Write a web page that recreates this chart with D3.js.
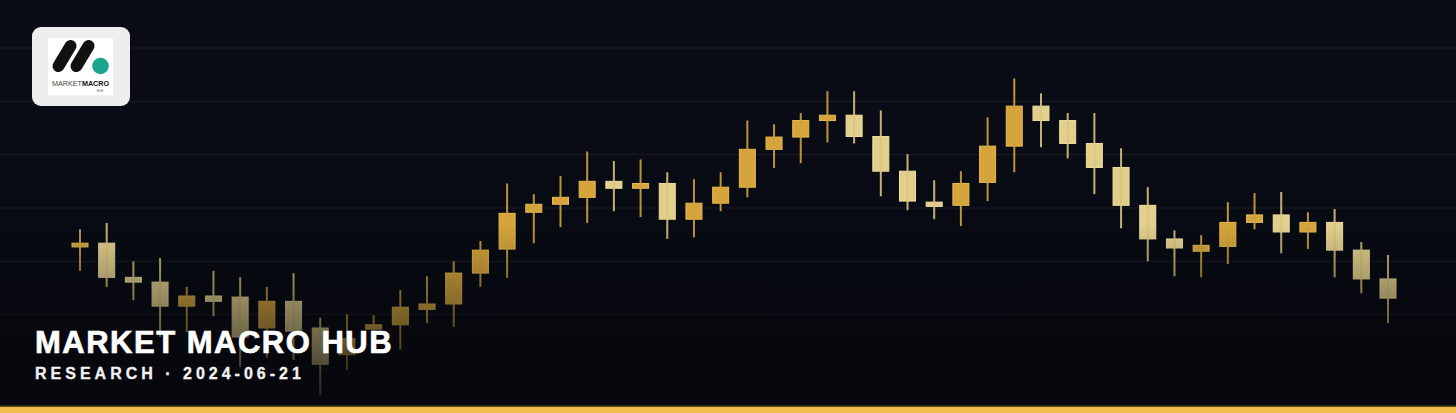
<!DOCTYPE html>
<html>
<head>
<meta charset="utf-8">
<script src="https://cdn.jsdelivr.net/npm/d3@7"></script>
<style>
  html, body { margin: 0; padding: 0; background: #080b14; }
  svg { display: block; }
</style>
</head>
<body>
<svg id="chart" width="1456" height="413"></svg>
<script>
// ---- data ----
const opens  = [122.7,123.4,117.0,116.1,111.6,113.5,113.3,107.5,112.5,107.5,102.5,107.3,108.1,111.0,112.0,117.8,122.3,129.2,130.7,132.0,135.0,133.7,134.6,127.9,130.9,133.9,141.0,143.3,146.4,147.4,143.4,136.9,131.1,130.5,134.8,141.6,149.1,146.4,142.1,137.6,130.5,124.2,121.9,122.8,127.3,128.7,125.5,127.3,122.1,116.7];
const highs  = [126.0,127.2,120.0,120.6,115.2,118.2,117.0,115.2,117.8,109.4,110.1,109.9,114.6,117.2,120.0,123.8,134.6,132.6,136.0,140.6,138.8,139.1,136.7,135.4,136.7,146.4,145.7,147.8,151.9,151.9,148.3,140.1,135.2,136.9,147.0,154.3,151.5,147.8,147.8,141.2,133.9,125.8,124.9,131.1,132.8,133.0,129.2,129.8,123.6,121.2];
const lows   = [118.2,115.2,112.7,105.8,106.7,109.7,100.2,101.9,101.5,94.9,99.6,103.7,103.4,108.4,107.7,115.2,116.9,123.4,126.4,127.2,129.4,128.3,124.2,124.5,129.4,132.0,137.5,138.4,142.3,142.1,132.2,129.6,127.9,126.6,131.3,136.7,141.4,139.3,132.6,126.2,120.0,117.2,117.0,119.5,126.0,121.5,122.3,117.0,114.0,108.4];
const closes = [123.4,117.0,116.1,111.6,113.5,112.5,105.8,112.5,106.9,100.7,105.5,108.1,111.4,112.0,117.8,122.1,129.0,130.7,132.0,135.0,133.7,134.6,127.9,130.9,133.9,141.0,143.3,146.4,147.4,143.4,136.9,131.3,130.3,134.6,141.6,149.1,146.4,142.1,137.6,130.5,124.2,122.5,123.0,127.3,128.7,125.5,127.3,122.1,116.7,113.1];
const gridLevels = [100,110,120,130,140,150,160];
const titleText = "MARKET MACRO HUB";
const subtitleText = "RESEARCH · 2024-06-21";

const W = 1456, H = 413;
const svg = d3.select("#chart");
const defs = svg.append("defs");

// background
const bg = defs.append("linearGradient").attr("id","bg").attr("x1",0).attr("y1",0).attr("x2",0).attr("y2",1);
bg.append("stop").attr("offset","0%").attr("stop-color","#0a0d18");
bg.append("stop").attr("offset","100%").attr("stop-color","#07090f");
svg.append("rect").attr("width",W).attr("height",H).attr("fill","url(#bg)");

const candles = opens.map((o,i)=>({i, o, h:highs[i], l:lows[i], c:closes[i]}));

const x = d3.scaleBand().domain(candles.map(d=>d.i)).range([66.65, 1401.35]).paddingInner(0.4).paddingOuter(0.2);
const y = d3.scaleLinear().domain([100,160]).range([368,48]);

// gridlines
svg.append("g").selectAll("line").data(gridLevels).join("line")
  .attr("x1",0).attr("x2",W)
  .attr("y1",d=>y(d)).attr("y2",d=>y(d))
  .attr("stroke","#ffffff").attr("stroke-opacity",0.075).attr("stroke-width",1);

const up = d => d.c >= d.o;
const gold = {body:"#d5a53b", edge:"#e6bb52", wick:"#d0a23e"};
const pale = {body:"#e2cf8c", edge:"#eedd9f", wick:"#d9c47e"};

const g = svg.append("g");
const cg = g.selectAll("g.c").data(candles).join("g").attr("class","c");
cg.append("rect")
  .attr("x", d => x(d.i))
  .attr("width", x.bandwidth())
  .attr("y", d => y(Math.max(d.o,d.c)))
  .attr("height", d => Math.max(1.5, Math.abs(y(d.o)-y(d.c))))
  .attr("fill", d => up(d)?gold.body:pale.body)
  .attr("stroke", d => up(d)?gold.edge:pale.edge)
  .attr("stroke-width", 1);
cg.append("line")
  .attr("x1", d => x(d.i)+x.bandwidth()/2).attr("x2", d => x(d.i)+x.bandwidth()/2)
  .attr("y1", d => y(d.h)).attr("y2", d => y(d.l))
  .attr("stroke", d => up(d)?gold.wick:pale.wick)
  .attr("stroke-opacity", 0.9)
  .attr("stroke-width", 2);

// bottom fade
const fade = defs.append("linearGradient").attr("id","fade").attr("x1",0).attr("y1",0).attr("x2",0).attr("y2",1);
fade.append("stop").attr("offset","0%").attr("stop-color","#05070c").attr("stop-opacity",0);
fade.append("stop").attr("offset","45%").attr("stop-color","#05070c").attr("stop-opacity",0.4);
fade.append("stop").attr("offset","100%").attr("stop-color","#05070c").attr("stop-opacity",0.88);
svg.append("rect").attr("x",0).attr("y",225).attr("width",W).attr("height",H-225).attr("fill","url(#fade)");

// title
svg.append("text").text(titleText)
  .attr("x",35).attr("y",352.5)
  .attr("fill","#ffffff").attr("stroke","#ffffff").attr("stroke-width",0.7)
  .attr("font-family","'Liberation Sans', Arial, Helvetica, sans-serif")
  .attr("font-weight","bold").attr("font-size",31)
  .attr("letter-spacing","1.5px");
svg.append("text").text(subtitleText)
  .attr("x",35).attr("y",379)
  .attr("fill","#f2f2f2").attr("stroke","#f2f2f2").attr("stroke-width",0.3)
  .attr("font-family","'Liberation Sans', Arial, Helvetica, sans-serif")
  .attr("font-weight","bold").attr("font-size",16)
  .attr("letter-spacing","4px");

// bottom bar
svg.append("rect").attr("x",0).attr("y",405.5).attr("width",W).attr("height",1.5).attr("fill","#5a4518");
svg.append("rect").attr("x",0).attr("y",407).attr("width",W).attr("height",6).attr("fill","#f1bf4b");

// logo
const logo = svg.append("g");
logo.append("rect").attr("x",32).attr("y",27).attr("width",98).attr("height",79).attr("rx",9).attr("fill","#eeeeee");
logo.append("rect").attr("x",48).attr("y",38).attr("width",65).attr("height",57).attr("fill","#ffffff");
const pills = [[70.5,46,58.5,66],[88.5,46,76.5,66]];
logo.selectAll("line.p").data(pills).join("line")
  .attr("x1",d=>d[0]).attr("y1",d=>d[1]).attr("x2",d=>d[2]).attr("y2",d=>d[3])
  .attr("stroke","#111111").attr("stroke-width",12).attr("stroke-linecap","round");
logo.append("circle").attr("cx",100.5).attr("cy",66).attr("r",8.3).attr("fill","#1aa68e");
const lt = logo.append("text").attr("x",80.5).attr("y",85.5).attr("text-anchor","middle")
  .attr("font-family","'Liberation Sans', Arial, sans-serif").attr("font-size",7.2);
lt.append("tspan").text("MARKET").attr("fill","#444444");
lt.append("tspan").text("MACRO").attr("fill","#111111").attr("font-weight","bold");
logo.append("text").text("HUB").attr("x",100).attr("y",92).attr("text-anchor","middle")
  .attr("font-family","'Liberation Sans', Arial, sans-serif").attr("font-size",3).attr("fill","#555");
</script>
</body>
</html>
